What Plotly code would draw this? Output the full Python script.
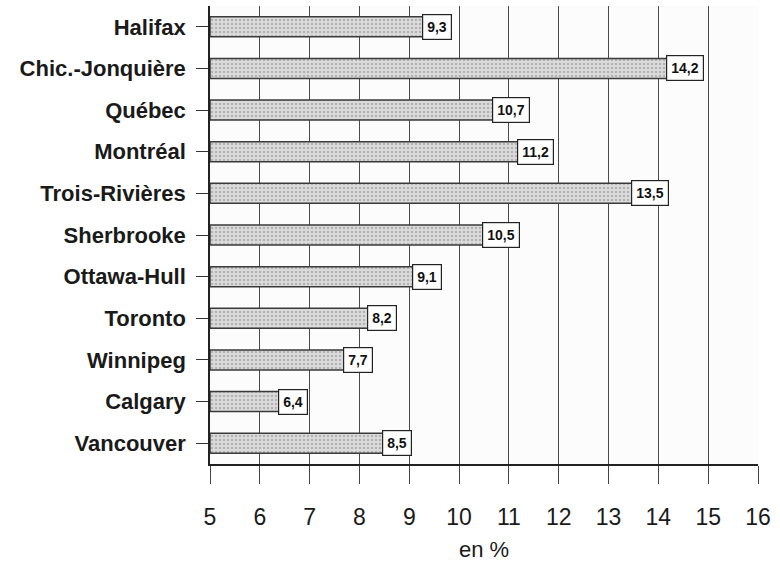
import plotly.graph_objects as go

cities = ["Halifax", "Chic.-Jonquière", "Québec", "Montréal", "Trois-Rivières",
          "Sherbrooke", "Ottawa-Hull", "Toronto", "Winnipeg", "Calgary", "Vancouver"]
values = [9.3, 14.2, 10.7, 11.2, 13.5, 10.5, 9.1, 8.2, 7.7, 6.4, 8.5]
value_labels = ["9,3", "14,2", "10,7", "11,2", "13,5", "10,5", "9,1", "8,2", "7,7", "6,4", "8,5"]
x_ticks = list(range(5, 17))

FONT = "Liberation Sans, Arial"

fig = go.Figure()
fig.add_trace(go.Bar(
    y=cities, x=[v - 5 for v in values], base=5, orientation="h", width=0.48,
    marker=dict(color="#dcdcdc",
                line=dict(color="#3a3a3a", width=1.5),
                pattern=dict(shape=".", fgcolor="#8a8a8a", size=4, solidity=0.35)),
    hoverinfo="skip", showlegend=False,
))

for c, v, lab in zip(cities, values, value_labels):
    fig.add_annotation(x=v, y=c, text="<b>" + lab + "</b>", showarrow=False,
                       xanchor="left", xshift=-2,
                       font=dict(family=FONT, size=14, color="#111"),
                       bgcolor="white", bordercolor="#222", borderwidth=1.2, borderpad=4)

fig.update_layout(
    width=780, height=574,
    margin=dict(l=210, r=22, t=6, b=110, autoexpand=False),
    paper_bgcolor="white", plot_bgcolor="#fcfcfc",
    font=dict(family=FONT, color="#1a1a1a"),
    bargap=0.5,
)
fig.update_xaxes(
    range=[5, 16], tickvals=x_ticks, ticktext=[str(t) for t in x_ticks],
    showgrid=True, gridcolor="#4a4a4a", gridwidth=1,
    showline=True, linecolor="#222", linewidth=1.5,
    ticks="outside", ticklen=18, tickcolor="#444", tickwidth=1,
    ticklabelstandoff=14,
    tickfont=dict(size=23),
    title=dict(text="en %", font=dict(size=22), standoff=12),
    zeroline=False, automargin=False,
)
fig.update_yaxes(
    categoryorder="array", categoryarray=cities, autorange="reversed",
    showline=True, linecolor="#222", linewidth=1.5,
    ticks="outside", ticklen=12, tickcolor="#333",
    ticklabelstandoff=6,
    tickfont=dict(size=22), showgrid=False, automargin=False,
    tickprefix="<b>", ticksuffix="</b>",
)

fig.write_html("out.html", config={"displayModeBar": False},
               post_script="document.body.style.margin='0';")
